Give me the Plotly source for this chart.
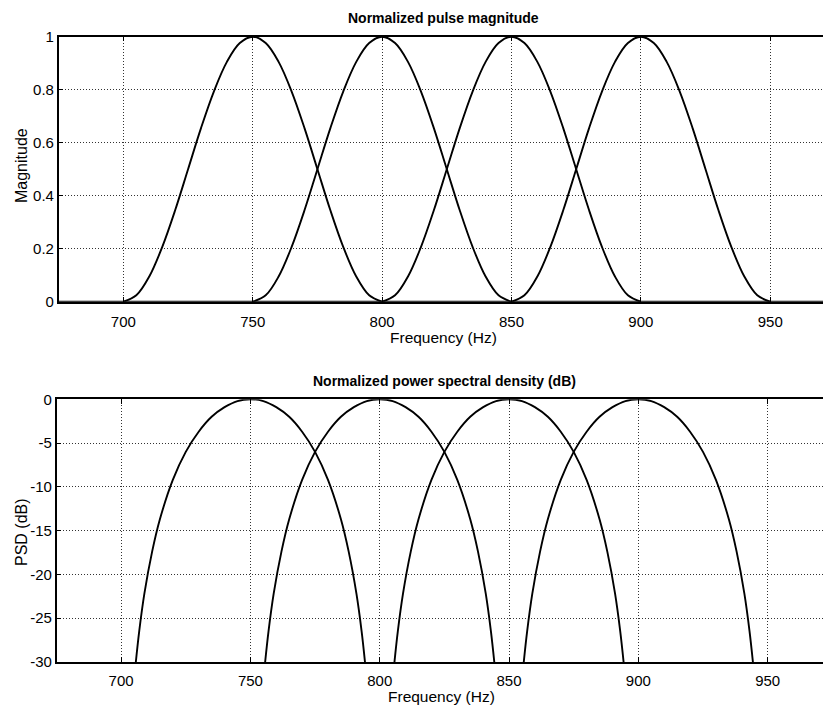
import plotly.graph_objects as go

# ---- data ----
centers = [750, 800, 850, 900]          # pulse centre frequencies (Hz)

# magnitude of one pulse vs offset from its centre (Hz)
mag_offsets = [-50, -45, -40, -35, -30, -25, -20, -15, -10, -5, 0,
               5, 10, 15, 20, 25, 30, 35, 40, 45, 50]
mag_values = [0, 0.024, 0.095, 0.206, 0.345, 0.5, 0.655, 0.794, 0.905, 0.976, 1,
              0.976, 0.905, 0.794, 0.655, 0.5, 0.345, 0.206, 0.095, 0.024, 0]

# PSD (dB) of one pulse vs offset from its centre (Hz)
psd_offsets = [-44.3, -43, -41, -38, -35, -30, -25, -20, -15, -10, -5, 0,
               5, 10, 15, 20, 25, 30, 35, 38, 41, 43, 44.3]
psd_values = [-30, -26.5, -22.2, -17.4, -13.7, -9.2, -6.0, -3.7, -2.0, -0.9, -0.2, 0,
              -0.2, -0.9, -2.0, -3.7, -6.0, -9.2, -13.7, -17.4, -22.2, -26.5, -30]

freq_span = [675, 975]                   # frequency axis of the computation
x_ticks = [700, 750, 800, 850, 900, 950]
mag_ticks = [0, 0.2, 0.4, 0.6, 0.8, 1]
mag_tick_text = ["0", "0.2", "0.4", "0.6", "0.8", "1"]
psd_ticks = [-30, -25, -20, -15, -10, -5, 0]
psd_tick_text = ["-30", "-25", "-20", "-15", "-10", "-5", "0"]

# ---- figure ----
W, H = 823, 706
fig = go.Figure()
line = dict(color="black", width=1.8)

fig.add_trace(go.Scatter(x=freq_span, y=[0, 0], mode="lines", line=line,
                         xaxis="x", yaxis="y", showlegend=False, hoverinfo="skip"))
for c in centers:
    fig.add_trace(go.Scatter(x=[c + o for o in mag_offsets], y=mag_values, mode="lines",
                             line=dict(color="black", width=1.9, shape="spline", smoothing=1.0),
                             xaxis="x", yaxis="y", showlegend=False))
    fig.add_trace(go.Scatter(x=[c + o for o in psd_offsets], y=psd_values, mode="lines",
                             line=dict(color="black", width=1.9, shape="spline", smoothing=1.0),
                             xaxis="x2", yaxis="y2", showlegend=False))

font = dict(family="Liberation Sans, Arial, sans-serif", color="black")
axcommon = dict(showline=True, linecolor="black", linewidth=1.5, ticks="inside",
                ticklen=5, tickcolor="black", tickwidth=1, showgrid=True,
                gridcolor="#333333", griddash="1px,2px", gridwidth=1, zeroline=False,
                automargin=False, tickfont=dict(size=15, **font))

def ypx(p):
    return (H - p) / H

def note(text, xp, yp, size, angle=0):
    return dict(text=text, x=xp / W, y=ypx(yp), xref="paper", yref="paper",
                xanchor="center", yanchor="middle", textangle=angle,
                showarrow=False, font=dict(size=size, **font))

fig.update_layout(
    width=W, height=H,
    margin=dict(l=0, r=0, t=0, b=0),
    paper_bgcolor="white", plot_bgcolor="white",
    xaxis=dict(domain=[58.7 / W, 1], range=[675, 970.4], anchor="y", mirror="ticks",
               tickvals=x_ticks, ticklabelstandoff=6, **axcommon),
    yaxis=dict(domain=[ypx(301.7), ypx(36.7)], range=[0, 1], anchor="x",
               tickvals=mag_ticks, ticktext=mag_tick_text, **axcommon),
    xaxis2=dict(domain=[56.7 / W, 1], range=[675.1, 971.4], anchor="y2", mirror="ticks",
                tickvals=x_ticks, ticklabelstandoff=4, **axcommon),
    yaxis2=dict(domain=[ypx(662), ypx(399.3)], range=[-30, 0], anchor="x2",
                tickvals=psd_ticks, ticktext=psd_tick_text, **axcommon),
    annotations=[
        note("<b>Normalized pulse magnitude</b>", 443, 18, 14),
        note("<b>Normalized power spectral density (dB)</b>", 444, 381, 14),
        note("Frequency (Hz)", 443.5, 337, 15.5),
        note("Frequency (Hz)", 441, 696, 15.5),
        note("Magnitude", 21.5, 165.5, 16, -90),
        note("PSD (dB)", 21, 532, 16, -90),
    ],
)

fig.write_html("out.html", config={"displayModeBar": False},
               post_script="document.body.style.margin='0px';document.body.style.overflow='hidden';")
